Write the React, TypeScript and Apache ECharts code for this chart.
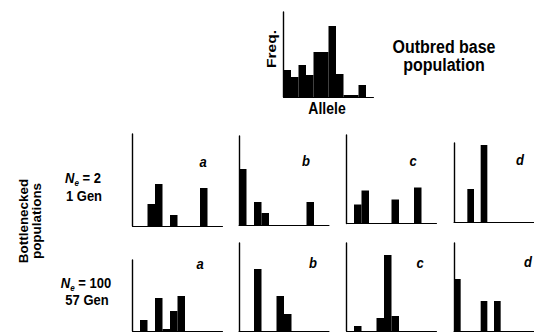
import React, { useEffect, useRef } from 'react';
import * as echarts from 'echarts';

// Allele bins (12 classes on every histogram)
const alleleBins = ['1', '2', '3', '4', '5', '6', '7', '8', '9', '10', '11', '12'];

// Outbred base population frequencies
const outbredBase = [27, 20, 32, 22, 45, 45, 71, 23, 2, 2, 12, 0];

// Bottlenecked populations, Ne = 2, 1 generation
const ne2GenA = [0, 0, 22, 42, 0, 11, 0, 0, 0, 38, 0, 0];
const ne2GenB = [56, 0, 23, 12, 0, 0, 0, 0, 0, 23, 0, 0];
const ne2GenC = [0, 19, 33, 0, 0, 0, 24, 0, 0, 36, 0, 0];
const ne2GenD = [0, 0, 33, 0, 77, 0, 0, 0, 0, 0, 0, 0];

// Bottlenecked populations, Ne = 100, 57 generations
const ne100GenA = [0, 11, 0, 33, 2, 20, 35, 0, 0, 0, 0, 0];
const ne100GenB = [0, 0, 62, 0, 0, 35, 17, 0, 0, 0, 0, 0];
const ne100GenC = [0, 5, 0, 0, 13, 76, 15, 0, 0, 0, 0, 0];
const ne100GenD = [52, 0, 0, 0, 30, 0, 30, 0, 0, 0, 0, 0];

const panelLetters = ['a', 'b', 'c', 'd'];

const FF = '"Liberation Sans", Arial, Helvetica, sans-serif';

export default function App() {
  const ref = useRef<HTMLDivElement>(null);

  useEffect(() => {
    document.body.style.margin = '0';
    const chart = echarts.init(ref.current!, null, { renderer: 'svg' });

    // layout (pixels): left, top, bottom
    const panels: { data: number[]; left: number; top: number; bottom: number }[] = [
      { data: outbredBase, left: 283.5, top: 12, bottom: 97 },
      { data: ne2GenA, left: 132.5, top: 134, bottom: 226 },
      { data: ne2GenB, left: 239, top: 136, bottom: 225 },
      { data: ne2GenC, left: 346.5, top: 135, bottom: 223.5 },
      { data: ne2GenD, left: 454, top: 143, bottom: 222 },
      { data: ne100GenA, left: 132.5, top: 260, bottom: 331 },
      { data: ne100GenB, left: 239, top: 243, bottom: 331 },
      { data: ne100GenC, left: 346.5, top: 243, bottom: 331 },
      { data: ne100GenD, left: 454, top: 243, bottom: 331 },
    ];

    const grid = panels.map((p) => ({
      left: p.left,
      top: p.top,
      width: 90,
      height: p.bottom - p.top,
      containLabel: false,
    }));
    const xAxis = panels.map((_, i) => ({
      type: 'category',
      gridIndex: i,
      data: alleleBins,
      boundaryGap: true,
      axisLine: { show: true, lineStyle: { color: '#000', width: 1 } },
      axisTick: { show: false },
      axisLabel: { show: false },
      splitLine: { show: false },
    }));
    const yAxis = panels.map((p, i) => ({
      type: 'value',
      gridIndex: i,
      min: 0,
      max: p.bottom - p.top,
      axisLine: { show: true, lineStyle: { color: '#000', width: 1.4 } },
      axisTick: { show: false },
      axisLabel: { show: false },
      splitLine: { show: false },
    }));
    const series = panels.map((p, i) => ({
      type: 'bar',
      xAxisIndex: i,
      yAxisIndex: i,
      data: p.data,
      barCategoryGap: '0%',
      barGap: '0%',
      itemStyle: { color: '#000' },
      silent: true,
    }));

    const letterPos = [
      [203, 162], [306, 161], [413, 161], [520, 160],
      [200, 264], [313, 263], [420, 263], [528, 262],
    ];
    const letters = letterPos.map((pos, i) => ({
      type: 'text',
      x: pos[0],
      y: pos[1],
      scaleY: 1.1,
      style: {
        text: panelLetters[i % 4],
        fontFamily: FF,
        fontSize: 13,
        fontWeight: 'bold',
        fontStyle: 'italic',
        fill: '#000',
        align: 'center',
        verticalAlign: 'middle',
      },
    }));

    const neRich = {
      n: { fontFamily: FF, fontSize: 13, fontWeight: 'bold', fontStyle: 'italic', lineHeight: 16, fill: '#000' },
      s: { fontFamily: FF, fontSize: 8, fontStyle: 'italic', fontWeight: 'bold', lineHeight: 8, verticalAlign: 'bottom', fill: '#000' },
      t: { fontFamily: FF, fontSize: 13, fontWeight: 'bold', lineHeight: 16, fill: '#000' },
    };

    const plainText = (text: string, x: number, y: number, size: number, extra: any = {}) => ({
      type: 'text',
      x,
      y,
      scaleY: 1.12,
      style: {
        text,
        fontFamily: FF,
        fontSize: size,
        fontWeight: 'bold',
        fill: '#000',
        align: 'center',
        verticalAlign: 'middle',
        ...extra,
      },
    });

    const graphic = [
      plainText('Outbred base\npopulation', 444, 56, 16, { lineHeight: 16 }),
      plainText('Allele', 327, 108.5, 14),
      {
        type: 'group',
        x: 271,
        y: 49,
        scaleY: 1.15,
        children: [
          {
            type: 'text',
            rotation: Math.PI / 2,
            style: {
              text: 'Freq.',
              fontFamily: FF,
              fontSize: 13.5,
              fontWeight: 'bold',
              fill: '#000',
              align: 'center',
              verticalAlign: 'middle',
            },
          },
        ],
      },
      {
        type: 'group',
        x: 30.5,
        y: 221,
        scaleY: 1.12,
        children: [
          {
            type: 'text',
            rotation: Math.PI / 2,
            style: {
              text: 'Bottlenecked\npopulations',
              fontFamily: FF,
              fontSize: 12,
              fontWeight: 'bold',
              lineHeight: 13,
              fill: '#000',
              align: 'center',
              verticalAlign: 'middle',
            },
          },
        ],
      },
      {
        type: 'text',
        x: 83,
        y: 178,
        scaleY: 1.12,
        style: { text: '{n|N}{s|e}{t| = 2}', rich: neRich, align: 'center', verticalAlign: 'middle' },
      },
      plainText('1 Gen', 84, 196, 13),
      {
        type: 'text',
        x: 86,
        y: 283,
        scaleY: 1.12,
        style: { text: '{n|N}{s|e}{t| = 100}', rich: neRich, align: 'center', verticalAlign: 'middle' },
      },
      plainText('57 Gen', 87, 300, 13),
      ...letters,
    ];

    chart.setOption({
      animation: false,
      backgroundColor: '#fff',
      grid,
      xAxis,
      yAxis,
      series,
      graphic,
    } as any);

    return () => chart.dispose();
  }, []);

  return <div ref={ref} style={{ width: 534, height: 333, background: '#fff' }} />;
}
